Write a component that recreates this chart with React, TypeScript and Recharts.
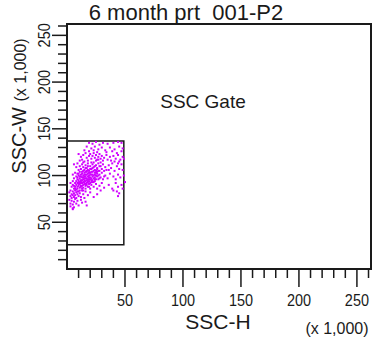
import { ScatterChart, Scatter, XAxis, YAxis, ReferenceArea } from 'recharts'

// SSC-H / SSC-W in thousands
const band130 = [
  [19, 135], [22, 134], [25, 136], [28, 133], [31, 135], [35, 134], [40, 135], [44, 136], [47, 135],
  [17, 131], [21, 129], [24, 131], [27, 128], [30, 130], [33, 127], [37, 130], [41, 128], [45, 131],
  [48, 129], [15, 127], [19, 126], [23, 127], [26, 125], [34, 125], [39, 126], [43, 124], [47, 126],
]
const band120 = [
  [10, 123], [12, 120], [14, 122], [16, 124], [17, 119], [19, 121], [20, 123], [21, 118], [22, 121],
  [23, 124], [24, 119], [25, 122], [26, 117], [27, 120], [28, 123], [29, 118], [30, 121], [31, 116],
  [32, 119], [34, 122], [35, 117], [37, 120], [38, 116], [40, 121], [42, 118], [44, 122], [46, 117],
  [48, 120], [11, 116], [13, 117], [15, 115], [18, 116], [41, 115], [45, 115], [49, 118],
]
const band110 = [
  [6, 112], [8, 109], [9, 113], [11, 110], [12, 107], [13, 112], [14, 109], [15, 106], [16, 111],
  [17, 108], [18, 113], [19, 105], [20, 110], [21, 107], [22, 112], [23, 109], [24, 106], [25, 111],
  [26, 108], [27, 113], [28, 105], [29, 110], [30, 107], [31, 112], [33, 109], [34, 106], [36, 111],
  [38, 108], [39, 113], [41, 105], [43, 110], [45, 107], [47, 112], [48, 106], [14, 114], [17, 105],
  [21, 114], [25, 105], [10, 106], [32, 105], [36, 106], [44, 113],
]
const band100 = [
  [5, 101], [6, 97], [7, 103], [8, 99], [9, 96], [9, 102], [10, 100], [11, 97], [11, 104], [12, 99],
  [12, 95], [13, 102], [13, 98], [14, 100], [14, 96], [15, 103], [15, 99], [16, 97], [16, 101],
  [17, 95], [17, 104], [18, 99], [18, 102], [19, 96], [19, 100], [20, 103], [20, 98], [21, 95],
  [21, 101], [22, 99], [22, 104], [23, 97], [24, 101], [24, 96], [25, 103], [26, 99], [27, 96],
  [28, 101], [29, 98], [30, 103], [31, 96], [33, 100], [35, 97], [37, 102], [40, 99], [42, 96],
  [44, 101], [46, 98], [49, 100], [50, 93], [10, 95], [15, 95], [26, 104], [32, 99],
]
const band90 = [
  [3, 92], [4, 88], [5, 94], [5, 90], [6, 86], [7, 92], [7, 88], [8, 94], [8, 90], [9, 86], [9, 92],
  [10, 89], [10, 93], [11, 87], [11, 91], [12, 94], [12, 89], [13, 86], [13, 92], [14, 90], [14, 87],
  [15, 93], [16, 89], [16, 86], [17, 92], [18, 88], [19, 91], [20, 86], [21, 90], [22, 93], [23, 88],
  [25, 91], [26, 86], [28, 89], [30, 92], [32, 87], [36, 90], [39, 86], [42, 92], [44, 88], [47, 90],
  [48, 86], [6, 89], [18, 94], [24, 94],
]
const band80 = [
  [2, 82], [3, 78], [3, 84], [4, 80], [4, 76], [5, 83], [5, 79], [6, 81], [6, 77], [7, 84], [7, 79],
  [8, 82], [8, 76], [9, 80], [10, 83], [10, 78], [11, 81], [12, 77], [13, 84], [14, 80], [15, 76],
  [16, 83], [18, 79], [20, 82], [23, 77], [26, 80], [40, 84], [43, 83], [45, 81], [44, 78], [29, 84],
]
const band70 = [
  [2, 74], [3, 70], [3, 67], [4, 73], [5, 69], [6, 72], [6, 66], [7, 75], [8, 70], [9, 73], [10, 68],
  [12, 74], [13, 71], [16, 72], [5, 65], [17, 68], [5, 64],
]
// dense centre of the population
const core = [
  [9, 98], [10, 91], [10, 102], [11, 93], [11, 99], [12, 92], [12, 101], [13, 95], [13, 89], [13, 104],
  [14, 93], [14, 98], [14, 105], [15, 91], [15, 97], [15, 101], [16, 94], [16, 99], [16, 104], [17, 90],
  [17, 97], [17, 101], [18, 93], [18, 96], [18, 106], [19, 94], [19, 98], [19, 103], [20, 92], [20, 96],
  [20, 101], [21, 97], [21, 104], [22, 95], [22, 101], [22, 108], [23, 93], [23, 100], [23, 105],
  [24, 98], [24, 103], [24, 110], [25, 96], [25, 100], [26, 102], [26, 107], [27, 100], [27, 105],
  [28, 97], [28, 110], [9, 88], [8, 85], [11, 84], [12, 88], [7, 86], [9, 83], [14, 84], [16, 91],
  [19, 88], [21, 93], [20, 107], [18, 110], [16, 108], [23, 114], [25, 116], [27, 117], [29, 114],
]

const axisMax = 262.144
const gateX = [0, 49]
const gateY = [26, 137]
const ticks = [10, 20, 30, 40, 50, 60, 70, 80, 90, 100, 110, 120, 130, 140, 150, 160, 170, 180, 190, 200, 210, 220, 230, 240, 250, 260]
const labeled = [50, 100, 150, 200, 250]

const points = [...band130, ...band120, ...band110, ...band100, ...band90, ...band80, ...band70, ...core].map(
  ([h, w]) => ({ h, w })
)

const font = '"Liberation Sans", Arial, sans-serif'
const ink = '#1a1a1a'

function XTick({ x, y, payload }: any) {
  const major = labeled.includes(payload.value)
  return (
    <g>
      <line x1={x} x2={x} y1={y} y2={y + (major ? 18 : 9)} stroke={ink} strokeWidth={1.5} />
      {major && (
        <text
          transform={`translate(${x},${y + 37}) scale(0.85,1)`}
          textAnchor="middle"
          fontFamily={font}
          fontSize={17}
          fill={ink}
        >
          {payload.value}
        </text>
      )}
    </g>
  )
}

function YTick({ x, y, payload }: any) {
  const major = labeled.includes(payload.value)
  return (
    <g>
      <line x1={x - (major ? 15 : 9)} x2={x} y1={y} y2={y} stroke={ink} strokeWidth={1.5} />
      {major && (
        <text
          transform={`translate(${x - 17},${y}) rotate(-90) scale(0.85,1)`}
          textAnchor="middle"
          fontFamily={font}
          fontSize={17}
          fill={ink}
        >
          {payload.value}
        </text>
      )}
    </g>
  )
}

const Dot = (props: any) => <rect x={props.cx - 1} y={props.cy - 1} width={2} height={2} fill="#d000ff" />

export default function App() {
  return (
    <div style={{ position: 'absolute', left: 0, top: 0, width: 373, height: 347, background: '#fff' }}>
      <ScatterChart width={373} height={347} margin={{ top: 24, right: 2, bottom: 0, left: 0 }}>
        <XAxis
          type="number"
          dataKey="h"
          domain={[0, axisMax]}
          ticks={ticks}
          interval={0}
          height={78}
          axisLine={false}
          tickLine={false}
          tickSize={0}
          tickMargin={0}
          tick={<XTick />}
          allowDataOverflow
        />
        <YAxis
          type="number"
          dataKey="w"
          domain={[0, axisMax]}
          ticks={ticks}
          interval={0}
          width={67}
          axisLine={false}
          tickLine={false}
          tickSize={0}
          tickMargin={0}
          tick={<YTick />}
          allowDataOverflow
        />
        <Scatter data={points} shape={<Dot />} isAnimationActive={false} />
        <ReferenceArea
          x1={gateX[0]}
          x2={gateX[1]}
          y1={gateY[0]}
          y2={gateY[1]}
          fill="none"
          stroke={ink}
          strokeWidth={1.5}
          ifOverflow="visible"
        />
        <ReferenceArea
          x1={0}
          x2={axisMax}
          y1={0}
          y2={axisMax}
          fill="none"
          stroke={ink}
          strokeWidth={2}
          ifOverflow="visible"
        />
      </ScatterChart>
      <svg
        width={373}
        height={347}
        style={{ position: 'absolute', left: 0, top: 0, pointerEvents: 'none' }}
        fontFamily={font}
        fill={ink}
      >
        <text x={186} y={20} fontSize={22} textAnchor="middle">6 month prt_001-P2</text>
        <text x={203} y={108} fontSize={19} textAnchor="middle">SSC Gate</text>
        <text x={218} y={329} fontSize={21} textAnchor="middle">SSC-H</text>
        <text x={337} y={334} fontSize={16} textAnchor="middle">(x 1,000)</text>
        <text transform="translate(26,106) rotate(-90)" textAnchor="middle">
          <tspan fontSize={20}>SSC-W </tspan>
          <tspan fontSize={16}>(x 1,000)</tspan>
        </text>
      </svg>
    </div>
  )
}
